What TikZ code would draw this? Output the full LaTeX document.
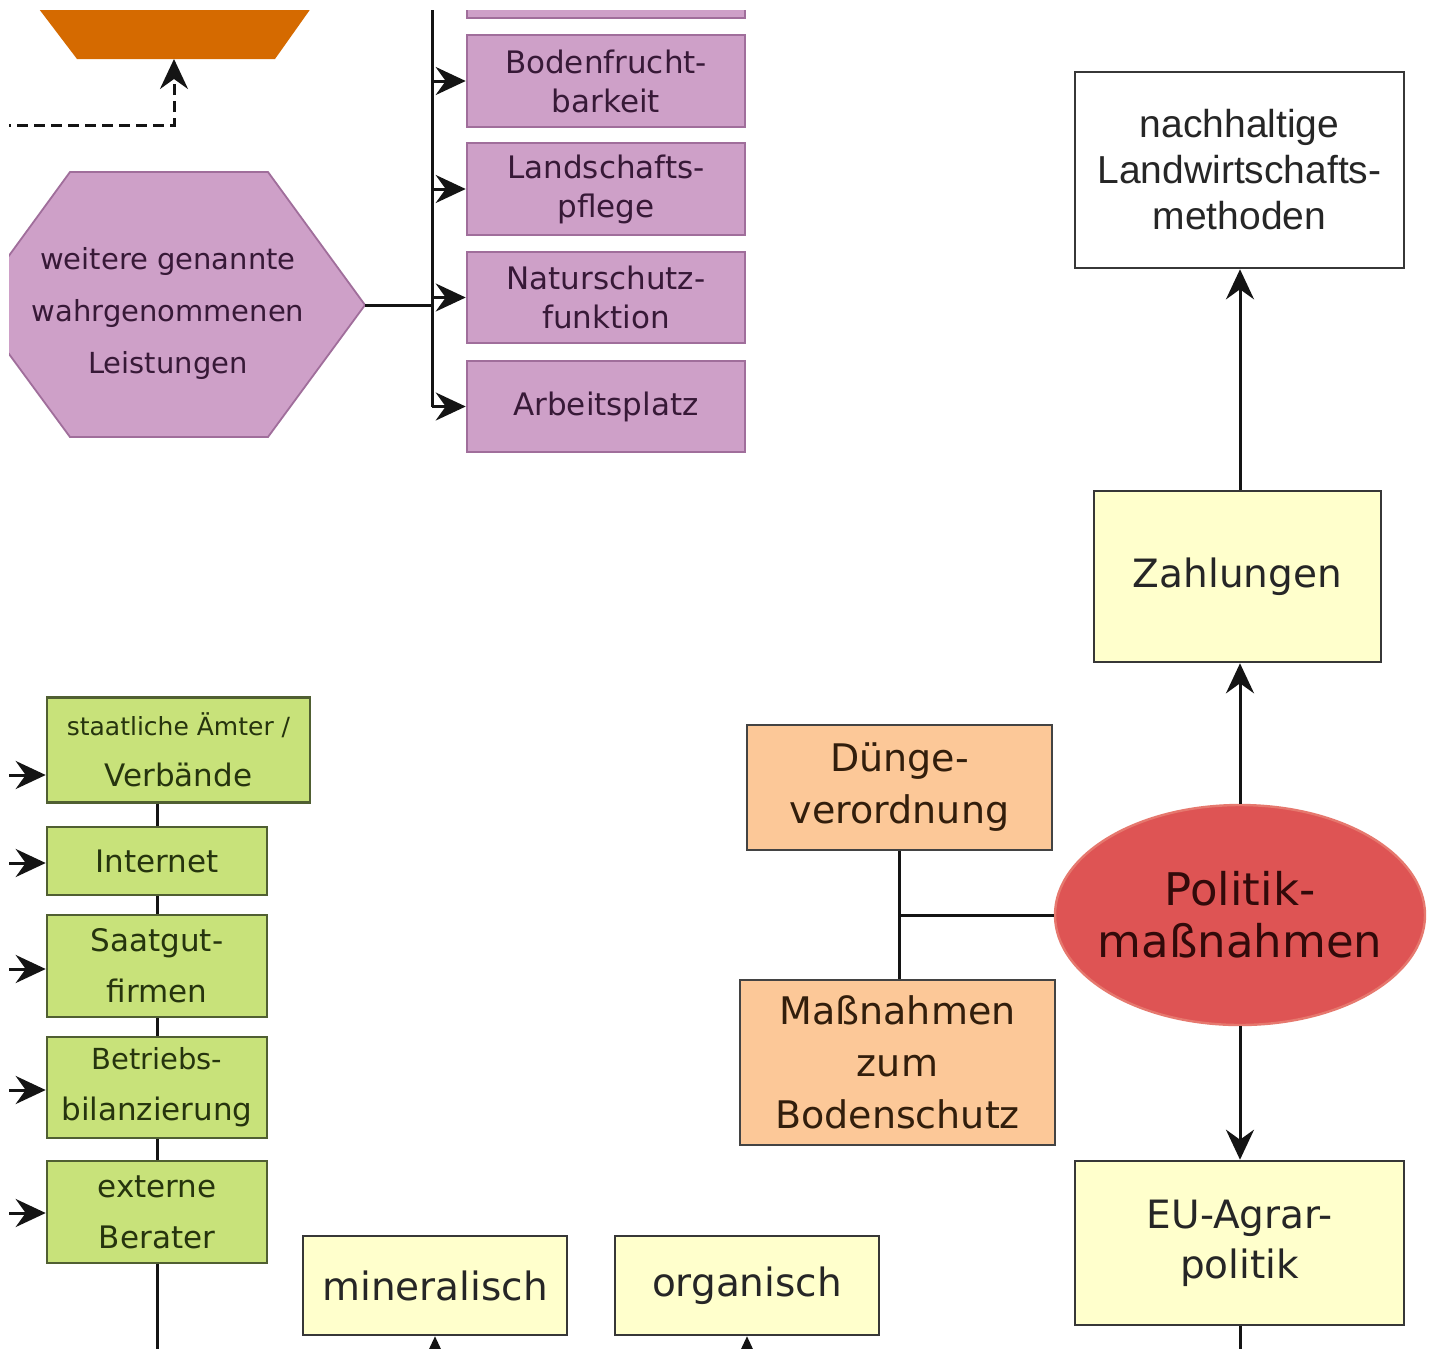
\documentclass[tikz,border=0pt]{standalone}
\usepackage{fontspec}
\setmainfont{DejaVu Sans}
\newfontfamily\arialf{Liberation Sans}
\usetikzlibrary{arrows.meta,shapes.geometric}
\definecolor{orhex}{RGB}{213,106,0}
\definecolor{pkfill}{RGB}{206,160,200}
\definecolor{pkdraw}{RGB}{160,110,155}
\definecolor{pktext}{RGB}{55,25,55}
\definecolor{grfill}{RGB}{200,226,122}
\definecolor{grdraw}{RGB}{80,95,50}
\definecolor{grtext}{RGB}{38,52,14}
\definecolor{ylfill}{RGB}{255,255,204}
\definecolor{pcfill}{RGB}{252,200,152}
\definecolor{pctext}{RGB}{50,30,12}
\definecolor{rdfill}{RGB}{222,84,84}
\definecolor{rddraw}{RGB}{230,120,110}
\definecolor{rdtext}{RGB}{50,10,10}
\definecolor{lnc}{RGB}{20,20,20}
\begin{document}
\begin{tikzpicture}[x=1pt,y=-1pt,
  rbox/.style n args={2}{draw=#1,fill=#2,line width=2.6pt,inner sep=0pt,align=center,shape=rectangle},
  pinkbox/.style={rbox={pkdraw}{pkfill},text=pktext,font=\fontsize{31}{39}\selectfont},
  greenbox/.style={rbox={grdraw}{grfill},text=grtext,font=\fontsize{31}{51}\selectfont},
  yellowbox/.style={rbox={lnc!85}{ylfill},text=black!85,font=\fontsize{39}{50}\selectfont},
  peachbox/.style={rbox={lnc!80}{pcfill},text=pctext,font=\fontsize{38}{52}\selectfont},
  conn/.style={draw=lnc,line width=3pt},
  tipstyle/.style={-{Stealth[length=30pt,width=28pt,inset=10pt]}},
  arr/.style={conn,tipstyle},
]
\useasboundingbox (0,0) rectangle (1437,1350);
\fill[white] (0,0) rectangle (1437,1350);
\begin{scope}
\clip (9,10) rectangle (1432,1348);

% orange hexagon (cut off)
\fill[orhex] (17,-20) -- (77,59) -- (275,59) -- (331,-20) -- cycle;
\coordinate (ohb) at (174,59);
\coordinate (dstart) at (0,125);
\coordinate (dcorner) at (174,125);
\draw[conn,dash pattern=on 11pt off 6pt,tipstyle] (dstart) -- (dcorner) -- (ohb);

% pink boxes
\node[pinkbox,minimum width=278pt,minimum height=48pt] (pk0) at (606,-6) {};
\node[pinkbox,minimum width=278pt,minimum height=92pt] (pk1) at (606,81) {Bodenfrucht-\\barkeit};
\node[pinkbox,minimum width=278pt,minimum height=92pt] (pk2) at (606,189) {Landschafts-\\pflege};
\node[pinkbox,minimum width=278pt,minimum height=91pt] (pk3) at (606,297.5) {Naturschutz-\\funktion};
\node[pinkbox,minimum width=278pt,minimum height=91pt] (pk4) at (606,406.5) {Arbeitsplatz};

% pink hexagon
\filldraw[fill=pkfill,draw=pkdraw,line width=1.8pt] (70,172) -- (268,172) -- (365,305) -- (268,437) -- (70,437) -- (-27,305) -- cycle;
\node[text=pktext,align=center,font=\fontsize{29}{52}\selectfont] (hex) at (168,313) {weitere genannte\\wahrgenommenen\\Leistungen};
\coordinate (hexR) at (365,305);
\coordinate (ttop) at (432,-20);
\coordinate (tjoin) at (432,305);
\coordinate (tbot) at (432,406.5);
\draw[conn] (hexR) -- (tjoin);
\draw[conn] (ttop) -- (tbot);
\draw[arr] (tbot) -- (pk4.west);
\draw[arr] (pk1.west -| ttop) -- (pk1.west);
\draw[arr] (pk2.west -| ttop) -- (pk2.west);
\draw[arr] (pk3.west -| ttop) -- (pk3.west);

% green boxes
\node[greenbox,minimum width=263pt,minimum height=105pt] (g1) at (178.5,750) {\fontsize{25}{51}\selectfont staatliche Ämter /\\Verbände};
\node[greenbox,minimum width=220pt,minimum height=68pt] (g2) at (157,861) {Internet};
\node[greenbox,minimum width=220pt,minimum height=102pt] (g3) at (157,966) {Saatgut-\\firmen};
\node[greenbox,minimum width=220pt,minimum height=101pt] (g4) at (157,1087.5) {\fontsize{29}{51}\selectfont Betriebs-\\bilanzierung};
\node[greenbox,minimum width=220pt,minimum height=102pt] (g5) at (157,1212) {externe\\Berater};
\coordinate (gbot) at (157,1365);
\draw[conn] (g1.south -| g2.north) -- (g2.north);
\draw[conn] (g2.south) -- (g3.north);
\draw[conn] (g3.south) -- (g4.north);
\draw[conn] (g4.south) -- (g5.north);
\draw[conn] (g5.south) -- (gbot);
\coordinate (ga1) at (0,775);
\coordinate (ga2) at (0,863);
\coordinate (ga3) at (0,969);
\coordinate (ga4) at (0,1090);
\coordinate (ga5) at (0,1213);
\draw[arr] (ga1) -- (ga1 -| g1.west);
\draw[arr] (ga2) -- (ga2 -| g2.west);
\draw[arr] (ga3) -- (ga3 -| g3.west);
\draw[arr] (ga4) -- (ga4 -| g4.west);
\draw[arr] (ga5) -- (ga5 -| g5.west);

% mineralisch / organisch
\node[yellowbox,minimum width=264pt,minimum height=99pt] (min) at (435,1285.5) {mineralisch};
\node[yellowbox,minimum width=264pt,minimum height=99pt] (org) at (747,1285.5) {organisch};
\coordinate (minb) at (435,1375);
\coordinate (orgb) at (747,1375);
\draw[arr] (minb) -- (min.south);
\draw[arr] (orgb) -- (org.south);

% peach boxes
\node[peachbox,minimum width=305pt,minimum height=125pt] (dv) at (899.5,787.5) {Dünge-\\verordnung};
\node[peachbox,minimum width=315pt,minimum height=165pt] (mb) at (897.5,1062.5) {Maßnahmen\\zum\\Bodenschutz};

% ellipse
\node[ellipse,draw=rddraw,fill=rdfill,line width=2.4pt,inner sep=0pt,minimum width=370pt,minimum height=220pt] (pol) at (1240,915) {};
\node[align=center,text=rdtext,font=\fontsize{45}{52}\selectfont] (poltext) at (pol.center) {Politik-\\maßnahmen};
\coordinate (j) at (899,915);
\draw[conn] (dv.south -| j) -- (j);
\draw[conn] (j) -- (j |- mb.north);
\draw[conn] (j) -- (pol.west);

% right column
\node[yellowbox,minimum width=287pt,minimum height=171pt] (zahl) at (1237.5,576.5) {Zahlungen};
\node[rbox={lnc!85}{white},minimum width=329pt,minimum height=196pt,text=black!85,font=\arialf\fontsize{39}{46}\selectfont] (nach) at (1239.5,170) {nachhaltige\\Landwirtschafts-\\methoden};
\node[yellowbox,minimum width=329pt,minimum height=164pt] (eu) at (1239.5,1243) {EU-Agrar-\\politik};
\coordinate (eub) at (1240,1375);
\draw[arr] (pol.north) -- (pol.north |- zahl.south);
\draw[arr] (zahl.north -| pol.north) -- (pol.north |- nach.south);
\draw[arr] (pol.south) -- (pol.south |- eu.north);
\draw[conn] (eu.south -| pol.south) -- (eub);
\end{scope}
\end{tikzpicture}
\end{document}
